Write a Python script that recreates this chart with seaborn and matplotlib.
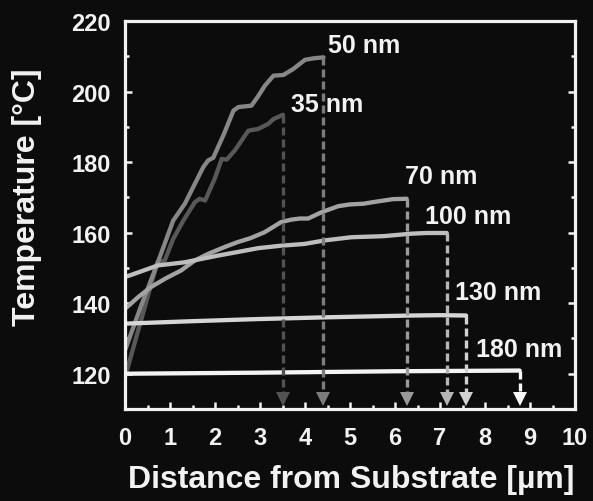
import numpy as np
import pandas as pd
import matplotlib
matplotlib.use("Agg")
import matplotlib.pyplot as plt
from matplotlib.ticker import MultipleLocator
import seaborn as sns

# ---------------- data ----------------
widths = ["35 nm", "50 nm", "70 nm", "100 nm", "130 nm", "180 nm"]

x_35 = [0, 0.72, 0.88, 1.07, 1.30, 1.55, 1.66, 1.78, 1.99, 2.15, 2.26, 2.44, 2.74, 2.96, 3.18, 3.30, 3.51]
t_35 = [119.0, 151.6, 152.0, 158.2, 163.5, 168.6, 169.6, 169.1, 175.2, 180.9, 180.7, 183.3, 188.9, 189.4, 190.8, 192.2, 193.4]

x_50 = [0, 0.35, 0.73, 1.07, 1.33, 1.74, 1.85, 1.96, 2.20, 2.41, 2.52, 2.81, 2.95, 3.11, 3.30, 3.52, 3.74, 4.00, 4.18, 4.41]
t_50 = [126.6, 139.0, 151.6, 163.4, 168.2, 178.6, 180.5, 181.2, 188.0, 194.6, 195.6, 196.0, 198.5, 201.7, 204.5, 204.7, 206.4, 209.0, 209.4, 209.7]

x_70 = [0, 0.30, 0.58, 0.90, 1.25, 1.55, 1.85, 2.21, 2.50, 2.78, 3.10, 3.47, 3.70, 3.89, 4.07, 4.37, 4.74, 5.00, 5.30, 5.59, 5.96, 6.26]
t_70 = [138.4, 141.8, 144.6, 147.0, 149.3, 152.1, 154.0, 155.9, 157.3, 158.4, 160.1, 163.0, 163.7, 164.0, 164.0, 165.8, 167.5, 168.0, 168.2, 168.8, 169.5, 169.6]

x_100 = [0, 0.73, 1.33, 2.07, 2.50, 2.96, 3.47, 3.99, 4.44, 5.03, 5.74, 6.36, 6.70, 7.15]
t_100 = [147.4, 150.7, 151.6, 153.5, 154.5, 155.6, 156.3, 156.8, 157.8, 158.7, 159.0, 159.7, 159.9, 159.9]

x_130 = [0, 1.50, 2.96, 4.50, 6.36, 7.00, 7.58]
t_130 = [134.2, 134.9, 135.5, 136.0, 136.5, 136.6, 136.5]

x_180 = [0, 3.0, 6.0, 8.77]
t_180 = [120.0, 120.3, 120.7, 120.9]

x_ticks = [0, 1, 2, 3, 4, 5, 6, 7, 8, 9, 10]
y_ticks = [120, 140, 160, 180, 200, 220]

xs = [x_35, x_50, x_70, x_100, x_130, x_180]
ts = [t_35, t_50, t_70, t_100, t_130, t_180]

line_colors = ["#585858", "#878787", "#a3a3a3", "#bebebe", "#d6d6d6", "#f4f4f4"]
arrow_colors = ["#525252", "#7c7c7c", "#9a9a9a", "#b6b6b6", "#d2d2d2", "#f8f8f8"]

df = pd.concat(
    [pd.DataFrame({"x": x, "T": t, "width": w}) for x, t, w in zip(xs, ts, widths)],
    ignore_index=True,
)

# ---------------- style ----------------
BG = "#0c0c0c"
FG = "#f2f2f2"
sns.set_theme(style="ticks")
plt.rcParams["font.family"] = ["Liberation Sans", "DejaVu Sans"]
plt.rcParams["font.weight"] = "bold"

fig = plt.figure(figsize=(5.93, 5.02), dpi=100, facecolor=BG)
ax = fig.add_axes([125 / 593, 1 - 410 / 502, 450 / 593, 388 / 502])
ax.set_facecolor(BG)

sns.lineplot(
    data=df, x="x", y="T", hue="width", hue_order=widths,
    palette=dict(zip(widths, line_colors)),
    estimator=None, sort=False, lw=3.1, legend=False, ax=ax,
)

ylo, yhi = 110, 220
ax.set_xlim(0, 10)
ax.set_ylim(ylo, yhi)

# dashed arrows from the end of each curve down to the axis
for x, t, c in zip(xs, ts, arrow_colors):
    xe, te = x[-1], t[-1]
    ax.plot([xe, xe], [te, ylo + 3.2], color=c, lw=2.4,
            dashes=(2.4, 1.2), solid_capstyle="butt", zorder=3)
    ax.plot([xe], [ylo + 2.9], marker="v", markersize=10.5,
            color=c, markeredgewidth=0, zorder=4)

# curve labels
label_pos = [(3.68, 194.6), (4.51, 211.2), (6.22, 174.1),
             (6.67, 162.8), (7.33, 141.1), (7.81, 125.0)]
for w, (lx, ly) in zip(widths, label_pos):
    ax.text(lx, ly, w, color=FG, fontsize=18, fontweight="bold",
            ha="left", va="baseline")

# axes cosmetics
for side in ["left", "right", "top", "bottom"]:
    ax.spines[side].set_visible(True)
    ax.spines[side].set_color(FG)
    ax.spines[side].set_linewidth(2.3)

ax.set_xticks(x_ticks)
ax.set_xticklabels([str(v) for v in x_ticks])
ax.set_yticks(y_ticks)
ax.set_yticklabels([str(v) for v in y_ticks])
ax.xaxis.set_minor_locator(MultipleLocator(0.5))
ax.yaxis.set_minor_locator(MultipleLocator(10))
ax.tick_params(which="both", direction="in", colors=FG, width=1.8,
               left=True, right=True, bottom=True, top=False)
ax.tick_params(which="major", length=5)
ax.tick_params(which="minor", length=3)
ax.tick_params(axis="x", which="major", pad=12, labelsize=17, labelcolor=FG)
ax.tick_params(axis="y", which="major", pad=10, labelsize=17, labelcolor=FG)
for lab in ax.get_xticklabels() + ax.get_yticklabels():
    lab.set_fontweight("bold")

ax.set_xlabel("Distance from Substrate [µm]", fontsize=23, fontweight="bold", color=FG)
ax.set_ylabel("Temperature [°C]", fontsize=23, fontweight="bold", color=FG)
ax.xaxis.set_label_coords(0.502, -0.142)
ax.yaxis.set_label_coords(-0.185, 0.548)

fig.savefig("out.png", dpi=100, facecolor=BG)
